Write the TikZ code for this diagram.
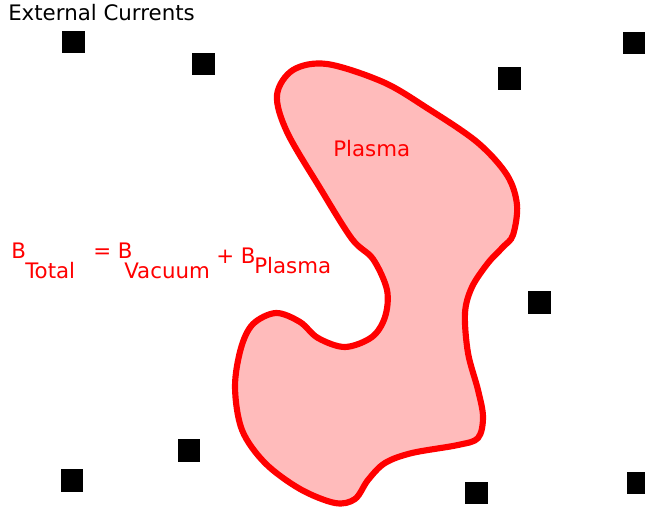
\documentclass[tikz,border=0pt]{standalone}
\usepackage{fontspec}
\setmainfont{DejaVu Sans}
\definecolor{plred}{RGB}{255,0,0}
\definecolor{plpink}{RGB}{255,187,187}

\begin{document}
\begin{tikzpicture}[x=0.75pt,y=-0.75pt,
  coil/.style={fill=black,minimum size=16.9pt,inner sep=0pt},
  lbl/.style={anchor=base west,inner sep=0pt,font=\fontsize{16}{19}\selectfont},
  blob/.style={draw=plred,line width=4.6pt,fill=plpink}
]
  \clip (0,0) rectangle (645,509);
  % Plasma region
  \path[blob] plot[smooth cycle,tension=0.55] coordinates {
    (327,64) (383,82) (427,108) (477,142) (507,175) (517,205) (513,235)
    (503,247) (488,263) (472,287) (465,313) (468,353) (478,390) (483,417)
    (478,438) (458,445) (412,453) (385,463) (368,480) (355,499) (335,503)
    (300,489) (265,463) (242,430) (235,387) (241,348) (253,324) (276,313)
    (300,322) (318,338) (345,347) (372,337) (385,317) (387,290) (373,259)
    (352,239) (320,188) (287,132) (277,95) (293,70)};
  \node[lbl,plred] (plasma) at (333,157) {Plasma};

  % External currents
  \foreach \px/\py [count=\i] in {73.5/42,203.5/64,509.5/78.5,634/43,539.5/302.5,
      189/450.5,72/480.5,476.5/493,638/483}
    \node[coil] (coil\i) at (\px,\py) {};
  \node[lbl] (ext) at (8,21) {External Currents};

  % Field decomposition
  \node[lbl,plred] (btot) at (11,259) {B};
  \node[lbl,plred] (total) at (25,279) {Total};
  \node[lbl,plred] (eqb) at (93,259) {= B};
  \node[lbl,plred] (vac) at (124,279) {Vacuum};
  \node[lbl,plred] (plusb) at (216,263) {+ B};
  \node[lbl,plred] (plsub) at (254,274) {Plasma};
\end{tikzpicture}
\end{document}
